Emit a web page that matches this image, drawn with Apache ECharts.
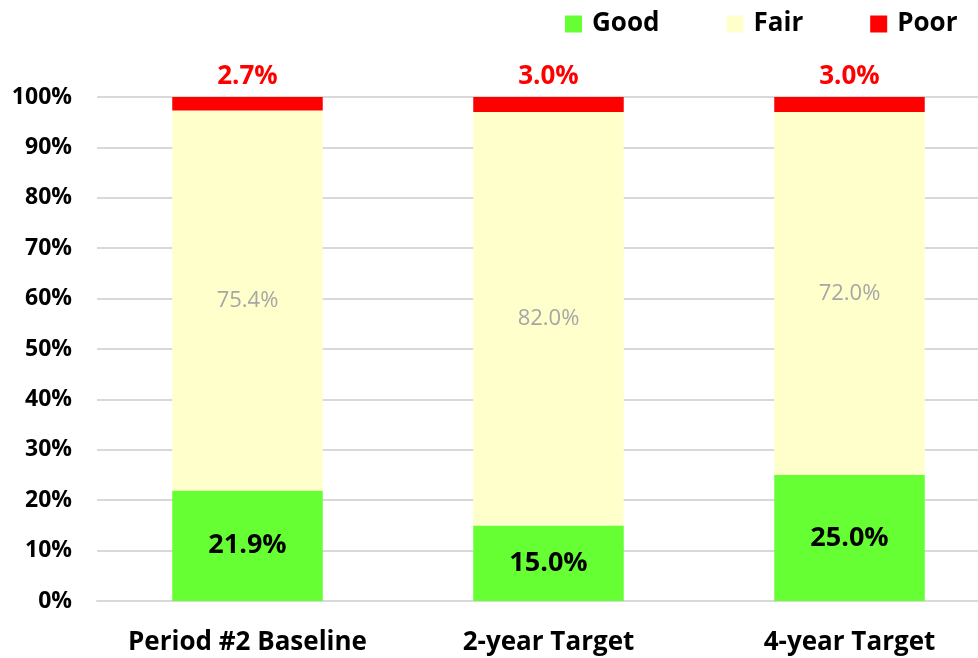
<!DOCTYPE html>
<html><head><meta charset="utf-8">
<script src="https://cdn.jsdelivr.net/npm/echarts@6/dist/echarts.min.js"></script>
<style>html,body{margin:0;padding:0;background:#fff}#c{width:978px;height:658px}</style>
</head><body><div id="c"></div>
<script>
const categories = ['Period #2 Baseline', '2-year Target', '4-year Target'];
const goodValues = [21.9, 15.0, 25.0];
const fairValues = [75.4, 82.0, 72.0];
const poorValues = [2.7, 3.0, 3.0];
const seriesNames = ['Good', 'Fair', 'Poor'];

const FONT = 'Open Sans';
const chart = echarts.init(document.getElementById('c'));
chart.setOption({
  animation: false,
  backgroundColor: '#fff',
  textStyle: { fontFamily: FONT },
  legend: {
    data: seriesNames,
    left: 560, top: 6,
    icon: 'rect', itemWidth: 17, itemHeight: 17, itemGap: 67,
    textStyle: { fontFamily: FONT, fontWeight: 'bold', fontSize: 26, color: '#000', padding: [0, 0, 0, 5] }
  },
  grid: { left: 97, width: 903, top: 97, bottom: 57, containLabel: false, outerBoundsMode: 'none' },
  xAxis: {
    type: 'category', data: categories,
    axisLine: { lineStyle: { color: '#d9d9d9', width: 2 } },
    axisTick: { show: false },
    axisLabel: { interval: 0, hideOverlap: false, margin: 29, fontFamily: FONT, fontWeight: 'bold', fontSize: 26, color: '#000' }
  },
  yAxis: {
    type: 'value', min: 0, max: 100, interval: 10,
    axisLine: { show: false }, axisTick: { show: false },
    splitLine: { lineStyle: { color: '#d9d9d9', width: 2 } },
    axisLabel: { formatter: '{value}%', margin: 25, fontFamily: FONT, fontWeight: 'bold', fontSize: 23, color: '#000' }
  },
  series: [
    { name: 'Good', type: 'bar', stack: 'all', barWidth: '50%', data: goodValues,
      itemStyle: { color: '#66ff33' },
      label: { show: true, position: 'inside', formatter: p => p.value.toFixed(1) + '%',
        fontFamily: FONT, fontWeight: 'bold', fontSize: 27, color: '#000' } },
    { name: 'Fair', type: 'bar', stack: 'all', data: fairValues,
      itemStyle: { color: '#ffffcc' },
      label: { show: true, position: 'inside', formatter: p => p.value.toFixed(1) + '%',
        fontFamily: FONT, fontWeight: 'normal', fontSize: 22, color: '#a6a6a6' } },
    { name: 'Poor', type: 'bar', stack: 'all', data: poorValues,
      itemStyle: { color: '#ff0000' },
      label: { show: true, position: 'top', distance: 7, formatter: p => p.value.toFixed(1) + '%',
        fontFamily: FONT, fontWeight: 'bold', fontSize: 26, color: '#ff0000' } }
  ]
});
</script></body></html>
